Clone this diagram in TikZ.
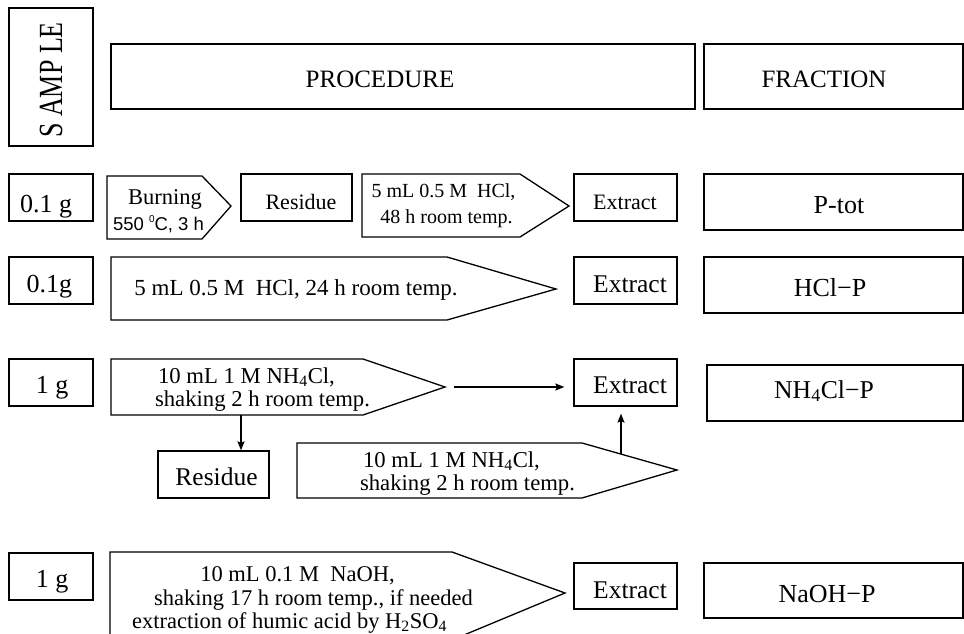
\documentclass[tikz,border=0pt]{standalone}
\usepackage{fontspec}
\setmainfont{Liberation Serif}
\newfontfamily\arialf{Liberation Sans}
\usetikzlibrary{arrows.meta}
\newcommand\fsz[1]{\fontsize{#1}{#1}\selectfont}
\newcommand\bx[5]{\node[box, minimum width={#4-#2}, minimum height={#5-#3}] (#1) at ({(#2+#4)/2},{(#3+#5)/2}) {};}
\tikzset{
  box/.style={draw, line width=1.3pt, inner sep=0pt},
  pent/.style={draw, line width=1.3pt, line join=miter},
  txt/.style={inner sep=0pt, anchor=base},
  arr/.style={line width=1.3pt, -{Stealth[length=9pt,width=7pt,inset=1.5pt]}}
}
\begin{document}
\begin{tikzpicture}[x=1pt,y=-1pt]
\useasboundingbox (0,0) rectangle (964,634);
% header
\bx{sample}{9}{8}{93}{146}
\bx{proc}{111}{44}{695}{109}
\bx{frac}{704}{44}{963}{109}
\node[inner sep=0pt, rotate=90] (tsample) at (51,80) {\fsz{26pt}\scalebox{1}[1.3]{S AMP LE}};
\node[txt] (tproc) at (380,88) {\fsz{25pt}PROCEDURE};
\node[txt] (tfrac) at (824,88) {\fsz{25pt}FRACTION};
% row 1
\bx{m1}{9}{174}{93}{221}
\draw[pent] (107,176) -- (202,176) -- (231,206) -- (202,239) -- (107,239) -- cycle;
\bx{res1}{241}{174}{352}{221}
\draw[pent] (362,174) -- (520,174) -- (569,206) -- (520,237) -- (362,237) -- cycle;
\bx{ex1}{574}{174}{677}{221}
\bx{ptot}{704}{174}{963}{230}
\node[txt] (tm1) at (46,212) {\fsz{26pt}0.1 g};
\node[txt] (tburn) at (165,204) {\fsz{22.5pt}Burning};
\node[txt] (ttemp) at (158.5,230) {\arialf\fsz{18.5pt}550 \raisebox{0.42em}{\fsz{10pt}0}C, 3 h};
\node[txt] (tres1) at (301,209) {\fsz{22pt}Residue};
\node[txt] (thcl1a) at (443.5,197) {\fsz{20pt}5 mL 0.5 M\ \ HCl,};
\node[txt] (thcl1b) at (446.5,223) {\fsz{20pt}48 h room temp.};
\node[txt] (tex1) at (625,209) {\fsz{22pt}Extract};
\node[txt] (tptot) at (839,213) {\fsz{26pt}P-tot};
% row 2
\bx{m2}{9}{257}{93}{304}
\draw[pent] (111,257) -- (447,257) -- (556,289) -- (447,320) -- (111,320) -- cycle;
\bx{ex2}{574}{257}{677}{304}
\bx{hclp}{704}{257}{963}{313}
\node[txt] (tm2) at (49.5,292) {\fsz{26pt}0.1g};
\node[txt] (thcl2) at (296,295) {\fsz{23pt}5 mL 0.5 M\ \ HCl, 24 h room temp.};
\node[txt] (tex2) at (630,292) {\fsz{25.5pt}Extract};
\node[txt] (thclp) at (830,296) {\fsz{26pt}HCl−P};
% row 3
\bx{m3}{9}{359}{93}{406}
\draw[pent] (111,359) -- (363,359) -- (445,387) -- (363,415) -- (111,415) -- cycle;
\coordinate (p3tip) at (445,387);
\coordinate (p3bot) at (241,415);
\bx{ex3}{574}{359}{677}{406}
\bx{nhp}{707}{365}{963}{421}
\bx{res3}{158}{451}{269}{498}
\draw[pent] (297,443) -- (582,443) -- (677,470) -- (582,498) -- (297,498) -- cycle;
\coordinate (p3up) at (621,454);
\node[txt] (tm3) at (52,393) {\fsz{26pt}1 g};
\node[txt] (tnh1a) at (246.5,383) {\fsz{22.7pt}10 mL 1 M NH\textsubscript{4}Cl,};
\node[txt] (tnh1b) at (262.5,406) {\fsz{22.7pt}shaking 2 h room temp.};
\node[txt] (tex3) at (630,393) {\fsz{25.5pt}Extract};
\node[txt] (tnhp) at (824,398) {\fsz{25.7pt}NH\textsubscript{4}Cl−P};
\node[txt] (tres3) at (216.5,485) {\fsz{25.5pt}Residue};
\node[txt] (tnh2a) at (451.5,467) {\fsz{22.7pt}10 mL 1 M NH\textsubscript{4}Cl,};
\node[txt] (tnh2b) at (467.5,490) {\fsz{22.7pt}shaking 2 h room temp.};
\draw[arr, shorten <=9pt, shorten >=9pt] (p3tip) -- (p3tip -| ex3.west);
\draw[arr] (p3bot) -- (p3bot |- res3.north);
\draw[arr, shorten >=7pt] (p3up) -- (p3up |- ex3.south);
% row 4
\bx{m4}{9}{553}{93}{600}
\draw[pent] (110,552) -- (452,552) -- (565,593) -- (452,640) -- (110,640) -- cycle;
\bx{ex4}{574}{563}{677}{609}
\bx{naohp}{704}{563}{963}{618}
\node[txt] (tm4) at (52,587) {\fsz{26pt}1 g};
\node[txt] (tna1) at (297.5,581) {\fsz{22.5pt}10 mL 0.1 M\ \ NaOH,};
\node[txt] (tna2) at (313.5,605) {\fsz{22.5pt}shaking 17 h room temp., if needed};
\node[txt] (tna3) at (289.5,628) {\fsz{22.5pt}extraction of humic acid by H\textsubscript{2}SO\textsubscript{4}};
\node[txt] (tex4) at (630,598) {\fsz{25.5pt}Extract};
\node[txt] (tnaohp) at (827,602) {\fsz{26pt}NaOH−P};
\end{tikzpicture}
\end{document}
